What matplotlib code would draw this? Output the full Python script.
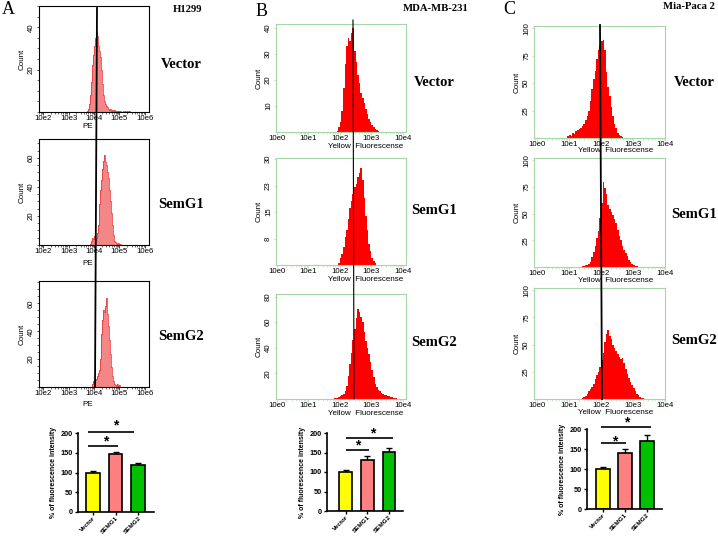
import numpy as np
import matplotlib
matplotlib.use("Agg")
import matplotlib.pyplot as plt
from matplotlib.lines import Line2D
from matplotlib.ticker import LogLocator, NullFormatter, MultipleLocator

plt.rcParams['font.family'] = ['Liberation Sans', 'DejaVu Sans']

W, H = 718, 536  # output size in pixels

# --- flow histograms: counts per log10 bin ---
# panel A (H1299), bin width 0.04 decades
h1299_step = 0.04
h1299_vector_start = 3.72
h1299_vector = [0.5, 1.5, 4, 8, 14, 22, 27, 31, 35, 38, 36, 31, 29, 26, 20, 13, 8, 5, 4, 3,
                2.5, 1.5, 1, 1.3, 0.7, 1, 0.5, 0.8, 0.4, 0.7, 0.3, 0.6, 0.3, 0.5, 0.2, 0.4,
                0.1, 0.5, 0.1, 0.3, 0, 0.4]
h1299_semg1_start = 3.84
h1299_semg1 = [1, 3, 5, 4, 6, 3, 5, 8, 14, 28, 38, 45, 52, 58, 62, 57, 55, 50, 46, 38, 30,
               22, 14, 7, 3, 2, 1.5, 1, 1.5, 0.5, 1, 0.3]
h1299_semg2_start = 3.92
h1299_semg2 = [2, 4, 3, 5, 6, 8, 10, 12, 20, 38, 48, 55, 54, 58, 64, 52, 44, 34, 24, 14, 8,
               4, 2, 1.5, 1, 2, 0.5, 1.5, 0.3]

# panel B (MDA-MB-231), bin width 0.05 decades
mda_step = 0.05
mda_vector_start = 1.90
mda_vector = [0.5, 2, 4, 8, 17, 26, 33, 36, 35, 38, 40, 31, 27, 22, 19, 15, 13, 11, 9, 7, 5,
              4, 2.5, 2, 1, 0.7, 0.3]
mda_semg1_start = 1.95
mda_semg1 = [0.5, 2, 3, 5, 8, 10, 13, 16, 18, 20, 22, 23, 25, 26, 27.5, 24, 19, 14, 10, 6, 4,
             2, 1, 0.5]
mda_semg2_start = 1.80
mda_semg2 = [0.5, 1, 0.8, 1.5, 2, 3, 4, 6, 10, 18, 27, 36, 46, 55, 63, 70, 68, 64, 60, 52, 45,
             40, 35, 29, 23, 17, 12, 9, 7, 6, 5, 4, 3.5, 3, 2.5, 2, 1.5, 1.2, 1, 0.6, 0.3]

# panel C (Mia-Paca 2), bin width 0.05 decades
mia_step = 0.05
mia_vector_start = 0.95
mia_vector = [2, 3, 2, 5, 4, 6, 7, 8, 9, 11, 13, 16, 20, 25, 34, 45, 54, 61, 72, 80, 85, 88,
              89, 80, 60, 46, 38, 28, 20, 13, 9, 5, 3, 1.5, 1]
mia_semg1_start = 1.40
mia_semg1 = [0.5, 1, 1.5, 2, 3, 5, 9, 14, 20, 27, 34, 46, 60, 80, 74, 68, 58, 54, 51, 49, 45,
             41, 35, 29, 25, 20, 16, 13, 10, 7, 5, 3, 2, 1, 0.5]
mia_semg2_start = 1.40
mia_semg2 = [0.5, 2, 3, 5, 7, 9, 11, 14, 18, 22, 25, 29, 36, 42, 52, 60, 63, 58, 55, 50, 47,
             44, 41, 39, 37, 38, 33, 28, 23, 19, 16, 13, 10, 7, 5, 3.5, 2, 1, 0.5]

# --- bar charts: % of fluorescence intensity ---
bar_labels = ["Vector", "SEMG1", "SEMG2"]
bar_colors = ["#ffff00", "#ff8080", "#00c000"]
h1299_means = [100, 148, 120]
h1299_err = [4, 5, 3]
mda_means = [100, 132, 152]
mda_err = [4, 9, 9]
mia_means = [100, 140, 170]
mia_err = [4, 11, 16]

fig = plt.figure(figsize=(W / 100, H / 100), dpi=100)


def rect(left, top, right, bottom):
    # pixel box -> figure fraction
    return [left / W, 1 - bottom / H, (right - left) / W, (bottom - top) / H]


def fx(px):
    return px / W


def fy(py):
    return 1 - py / H


def draw_hist(box, start, step, counts, xlim, ylim, yticks, ylabels, face, edge, frame, minor_y=None):
    ax = fig.add_axes(rect(*box))
    edges = 10 ** (start + step * np.arange(len(counts) + 1))
    ax.stairs(counts, edges, fill=True, color=face, zorder=1)
    if edge != face:
        ax.stairs(counts, edges, color=edge, linewidth=0.5, zorder=2)
    ax.set_xscale('log')
    ax.set_xlim(10 ** xlim[0], 10 ** xlim[1])
    ax.set_ylim(*ylim)
    decades = list(range(int(np.ceil(xlim[0])), int(np.floor(xlim[1] + 1e-9)) + 1))
    ax.set_xticks([10.0 ** d for d in decades])
    ax.set_xticklabels([f"10e{d}" for d in decades])
    ax.xaxis.set_minor_locator(LogLocator(base=10, subs=np.arange(2, 10), numticks=20))
    ax.xaxis.set_minor_formatter(NullFormatter())
    ax.set_yticks(yticks)
    ax.set_yticklabels(ylabels, rotation=90, va='center')
    if minor_y:
        ax.yaxis.set_minor_locator(MultipleLocator(minor_y))
    ax.tick_params(labelsize=5.6, length=1.8, width=0.5, pad=1.0, color=frame)
    ax.tick_params(axis='x', pad=0.6)
    ax.tick_params(which='minor', length=1.1, width=0.4, color=frame)
    for s in ax.spines.values():
        s.set_color(frame)
        s.set_linewidth(0.8)
    ax.set_ylabel('Count', fontsize=5.8, labelpad=1.5)
    return ax


def draw_bars(box, means, errs, xlim, brackets):
    ax = fig.add_axes(rect(*box))
    x = np.arange(len(means))
    ax.errorbar(x, means, yerr=[np.zeros(len(errs)), errs], fmt='none', ecolor='k',
                elinewidth=1.0, capsize=2.5, capthick=1.0, zorder=1)
    ax.bar(x, means, width=0.6, color=bar_colors, edgecolor='k', linewidth=1.2, zorder=2)
    ax.set_xlim(*xlim)
    ax.set_ylim(0, 200)
    ax.set_yticks([0, 50, 100, 150, 200])
    ax.set_yticklabels(['0', '50', '100', '150', '200'], fontsize=5.3, fontweight='bold')
    ax.set_xticks(x)
    ax.set_xticklabels(bar_labels, rotation=45, ha='right', rotation_mode='anchor',
                       fontsize=4.6, fontweight='bold')
    ax.tick_params(axis='y', length=2.5, width=1.0, pad=1.5)
    ax.tick_params(axis='x', length=1.8, width=1.0, pad=0.4)
    for side in ['top', 'right']:
        ax.spines[side].set_visible(False)
    for side in ['left', 'bottom']:
        ax.spines[side].set_linewidth(1.2)
    ax.set_ylabel('% of fluorescence intensity', fontsize=5.0, fontweight='bold', labelpad=2)
    # significance brackets: (x0, x1, y, star x, star y)
    for x0, x1, y, sx, sy in brackets:
        ax.plot([x0, x1], [y, y], color='k', lw=1.2, clip_on=False, solid_capstyle='butt')
        ax.text(sx, sy, '*', ha='center', va='center', fontsize=10, fontweight='bold')
    return ax


a_red = '#f38787'
a_edge = '#e82a2a'
green = '#a6d6a6'

# --- panel A: H1299 ---
a_boxes = [(39, 6, 149, 112), (39, 139, 149, 245), (39, 281, 149, 387)]
a_sets = [(h1299_vector_start, h1299_vector, 50, [20, 40]),
          (h1299_semg1_start, h1299_semg1, 73, [20, 40, 60]),
          (h1299_semg2_start, h1299_semg2, 76, [20, 40, 60])]
for box, (st, cnt, top, yt) in zip(a_boxes, a_sets):
    draw_hist(box, st, h1299_step, cnt, (1.84, 6.16), (0, top), yt, [str(v) for v in yt],
              a_red, a_edge, 'black', minor_y=5)
for yb in [127, 263, 404]:
    fig.text(fx(88), fy(yb), 'PE', fontsize=5.8, ha='center', va='center')

# --- panel B: MDA-MB-231 ---
b_boxes = [(276, 24, 406, 132), (276, 158, 406, 265), (276, 294, 406, 399)]
draw_hist(b_boxes[0], mda_vector_start, mda_step, mda_vector, (-0.03, 4.1), (0, 41.5),
          [10, 20, 30, 40], ['10', '20', '30', '40'], 'red', 'red', green)
draw_hist(b_boxes[1], mda_semg1_start, mda_step, mda_semg1, (-0.03, 4.1), (0, 30.3),
          [7.5, 15, 22.5, 30], ['8', '15', '23', '30'], 'red', 'red', green)
draw_hist(b_boxes[2], mda_semg2_start, mda_step, mda_semg2, (-0.03, 4.1), (0, 82),
          [20, 40, 60, 80], ['20', '40', '60', '80'], 'red', 'red', green)
for yb in [146.5, 279.5, 413.5]:
    fig.text(fx(366), fy(yb), 'Yellow  Fluorescense', fontsize=5.8, ha='center', va='center')

# --- panel C: Mia-Paca 2 ---
c_boxes = [(534, 26, 665, 138), (534, 158, 665, 267), (534, 288, 665, 399)]
for box, st, cnt in zip(c_boxes, [mia_vector_start, mia_semg1_start, mia_semg2_start],
                        [mia_vector, mia_semg1, mia_semg2]):
    draw_hist(box, st, mia_step, cnt, (-0.09, 4.0), (0, 102),
              [25, 50, 75, 100], ['25', '50', '75', '100'], 'red', 'red', green)
for yb in [151, 281, 412.5]:
    fig.text(fx(616), fy(yb), 'Yellow  Fluorescense', fontsize=5.8, ha='center', va='center')

# --- bar charts ---
draw_bars((78, 433, 154, 512), h1299_means, h1299_err, (-0.67, 2.7),
          [(-0.22, 1.82, 202, 0.98, 219), (-0.22, 1.11, 167, 0.58, 178)])
draw_bars((327, 433, 403, 511), mda_means, mda_err, (-0.88, 2.65),
          [(0.0, 2.19, 187, 1.26, 200), (0.0, 1.07, 156, 0.56, 168)])
draw_bars((587, 429, 662, 509), mia_means, mia_err, (-0.73, 2.68),
          [(-0.09, 2.18, 205, 1.09, 217), (-0.09, 1.05, 165, 0.55, 170)])

# --- gating lines through each column ---
for (x0, y0, x1, y1, lw) in [(97, 8, 95, 387, 1.3), (353, 20, 354, 399, 0.8), (600, 25, 602, 399, 1.3)]:
    fig.add_artist(Line2D([fx(x0), fx(x1)], [fy(y0), fy(y1)], color='black', lw=lw, zorder=5))

# --- labels ---
serif = 'Liberation Serif'
for letter, x, y in [('A', 8, 9), ('B', 262, 11), ('C', 509, 9)]:
    fig.text(fx(x), fy(y), letter, family=serif, fontsize=13, ha='center', va='center')
for title, x, y in [('H1299', 188, 9.5), ('MDA-MB-231', 436, 8.5), ('Mia-Paca 2', 689, 6.5)]:
    fig.text(fx(x), fy(y), title, family=serif, fontsize=7.7, fontweight='bold', ha='center', va='center')

row_names = ['Vector', 'SemG1', 'SemG2']
for xs, ys in [(181, [64, 204, 337]), (434, [83, 211, 342]), (694, [83, 215, 341])]:
    for name, y in zip(row_names, ys):
        fig.text(fx(xs), fy(y), name, family=serif, fontsize=10.5, fontweight='bold',
                 ha='center', va='center')

fig.savefig('out.png', dpi=100)
